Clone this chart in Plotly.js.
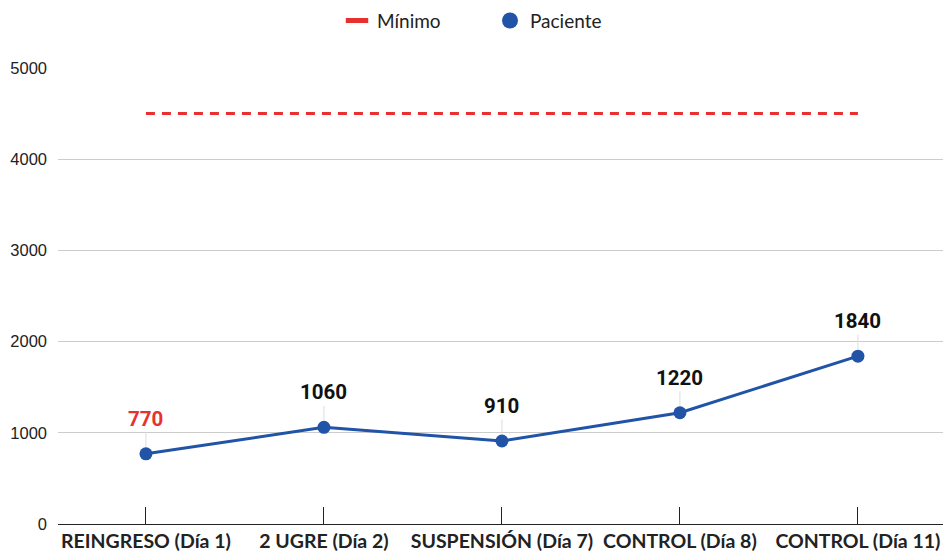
<!DOCTYPE html>
<html>
<head>
<meta charset="utf-8">
<script src="https://cdn.plot.ly/plotly-3.0.1.min.js"></script>
<style>html,body{margin:0;padding:0;background:#fff;}</style>
</head>
<body>
<div id="chart" style="width:943px;height:551px;"></div>
<script>
var categories = ["REINGRESO (Día 1)", "2 UGRE (Día 2)", "SUSPENSIÓN (Día 7)", "CONTROL (Día 8)", "CONTROL (Día 11)"];
var paciente = [770, 1060, 910, 1220, 1840];
var minimo = [4500, 4500, 4500, 4500, 4500];
var labelColors = ["#e8312f", "#111111", "#111111", "#111111", "#111111"];
var yTicks = [0, 1000, 2000, 3000, 4000, 5000];

var blue = "#2153a6";
var red = "#e8312f";

var traces = [
  {
    x: categories, y: minimo, mode: "lines", name: "Mínimo", showlegend: false,
    line: {color: red, width: 3, dash: "9px,7px"}, hoverinfo: "skip"
  },
  {
    x: categories, y: paciente, mode: "lines+markers", name: "Paciente", showlegend: false,
    line: {color: blue, width: 3},
    marker: {color: blue, size: 13}
  },
  {
    x: [null], y: [null], mode: "markers", name: "Mínimo", showlegend: true,
    marker: {symbol: "line-ew", size: 16, line: {color: red, width: 5}}
  },
  {
    x: [null], y: [null], mode: "markers", name: "Paciente", showlegend: true,
    marker: {symbol: "circle", size: 16, color: blue}
  }
];

var annotations = categories.map(function (c, i) {
  return {
    x: c, y: paciente[i], xref: "x", yref: "y",
    text: String(paciente[i]),
    showarrow: true, arrowhead: 0, arrowwidth: 1, arrowcolor: "#dddddd",
    ax: 0, ay: -35, standoff: 7,
    font: {family: "Roboto", size: 20.5, color: labelColors[i], weight: "bold"}
  };
});

var layout = {
  width: 943, height: 551,
  margin: {l: 58, r: 0, t: 68, b: 27},
  paper_bgcolor: "#ffffff", plot_bgcolor: "#ffffff",
  showlegend: true,
  legend: {
    orientation: "h", xref: "container", x: 337 / 943, xanchor: "left",
    yref: "container", y: 0.997, yanchor: "top",
    font: {family: "Lato", size: 19, color: "#222"},
    entrywidth: 108, traceorder: "normal"
  },
  xaxis: {
    type: "category", range: [-0.494, 4.478],
    showline: true, linecolor: "#222", linewidth: 1,
    ticks: "inside", ticklen: 17, tickcolor: "#222",
    ticklabelstandoff: 0,
    showgrid: false, zeroline: false,
    tickfont: {family: "Lato", size: 19.5, color: "#222", weight: "bold"}
  },
  yaxis: {
    range: [0, 5000], tickvals: yTicks, ticktext: yTicks.map(String),
    showgrid: true, gridcolor: "#cccccc", gridwidth: 1,
    zeroline: false, showline: false, ticks: "",
    ticklabelstandoff: 10,
    tickfont: {family: "Liberation Sans", size: 16.5, color: "#222"}
  },
  annotations: annotations
};

Plotly.newPlot("chart", traces, layout, {displayModeBar: false, staticPlot: true});
</script>
</body>
</html>
